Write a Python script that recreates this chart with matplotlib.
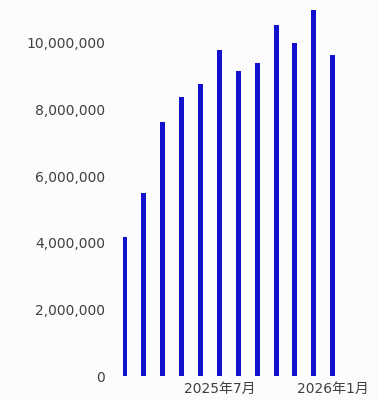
import matplotlib
matplotlib.use("Agg")
import matplotlib.pyplot as plt
from matplotlib.ticker import FuncFormatter
import numpy as np

months = ["2025年2月", "2025年3月", "2025年4月", "2025年5月", "2025年6月", "2025年7月",
          "2025年8月", "2025年9月", "2025年10月", "2025年11月", "2025年12月", "2026年1月"]
values = [4170000, 5490000, 7630000, 8380000, 8770000, 9790000,
          9160000, 9400000, 10540000, 10000000, 10990000, 9640000]
tick_months = ["2025年7月", "2026年1月"]
y_ticks = [0, 2000000, 4000000, 6000000, 8000000, 10000000]

plt.rcParams["font.family"] = ["DejaVu Sans", "Noto Sans CJK JP"]

fig = plt.figure(figsize=(3.78, 4.0), dpi=100)
fig.patch.set_facecolor("#fcfcfe")
ax = fig.add_axes([115 / 378, 24 / 400, 263 / 378, 376 / 400])
ax.set_facecolor("#fcfcfe")

x = np.arange(len(months))
ax.bar(x, values, width=0.26, color="#1212cc")

ax.set_xlim(-0.53, 13.4)
ax.set_ylim(0, 11290000)
ax.set_yticks(y_ticks)
ax.yaxis.set_major_formatter(FuncFormatter(lambda v, _: f"{int(v):,}"))
ax.set_xticks([months.index(m) for m in tick_months])
ax.set_xticklabels(tick_months)
ax.tick_params(axis="both", length=0, labelsize=10, colors="#404040")
ax.tick_params(axis="y", pad=7)
ax.tick_params(axis="x", pad=4)
for spine in ax.spines.values():
    spine.set_visible(False)

fig.savefig("out.png", dpi=100, facecolor=fig.get_facecolor())
